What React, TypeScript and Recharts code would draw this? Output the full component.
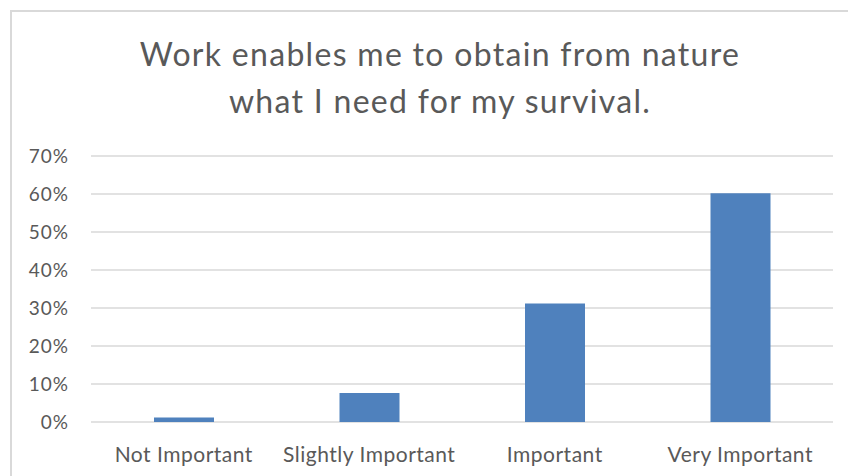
import { Bar, BarChart, CartesianGrid, XAxis, YAxis } from 'recharts';

const categories = ['Not Important', 'Slightly Important', 'Important', 'Very Important'];
const shares = [0.012, 0.076, 0.312, 0.602];
const yTicks = [0, 0.1, 0.2, 0.3, 0.4, 0.5, 0.6, 0.7];
const titleLines = ['Work enables me to obtain from nature', 'what I need for my survival.'];

const FONT = 'Lato, "Open Sans", sans-serif';
const TEXT = '#595959';

export default function App() {
  const data = categories.map((name, i) => ({ name, share: shares[i] }));

  return (
    <div style={{ position: 'absolute', left: 0, top: 0, width: 848, height: 476, overflow: 'hidden', background: '#fff' }}>
      <div
        style={{
          position: 'absolute',
          left: 10,
          top: 10,
          width: 900,
          height: 520,
          border: '2px solid #d9d9d9',
          boxSizing: 'border-box',
        }}
      />
      <div
        style={{
          position: 'absolute',
          left: 0,
          top: 30,
          width: 880,
          textAlign: 'center',
          fontFamily: FONT,
          fontSize: 32,
          letterSpacing: 1.3,
          lineHeight: '47px',
          color: TEXT,
        }}
      >
        {titleLines.map((line) => (
          <div key={line}>{line}</div>
        ))}
      </div>
      <div style={{ position: 'absolute', left: 0, top: 0 }}>
        <BarChart width={848} height={476} data={data} margin={{ top: 156, right: 15, left: 0, bottom: 0 }}>
          <CartesianGrid vertical={false} stroke="#d9d9d9" strokeWidth={1.5} />
          <XAxis
            dataKey="name"
            height={54}
            axisLine={false}
            tickLine={false}
            tickMargin={19}
            tick={{ fill: TEXT, fontSize: 21, fontFamily: FONT, letterSpacing: 0.5 }}
          />
          <YAxis
            width={91}
            domain={[0, 0.7]}
            ticks={yTicks}
            axisLine={false}
            tickLine={false}
            tickMargin={16}
            tickFormatter={(v) => `${Math.round(v * 100)}%`}
            tick={{ fill: TEXT, fontSize: 19, fontFamily: FONT, letterSpacing: 1 }}
          />
          <Bar dataKey="share" fill="#4f81bd" barSize={60} isAnimationActive={false} />
        </BarChart>
      </div>
    </div>
  );
}
